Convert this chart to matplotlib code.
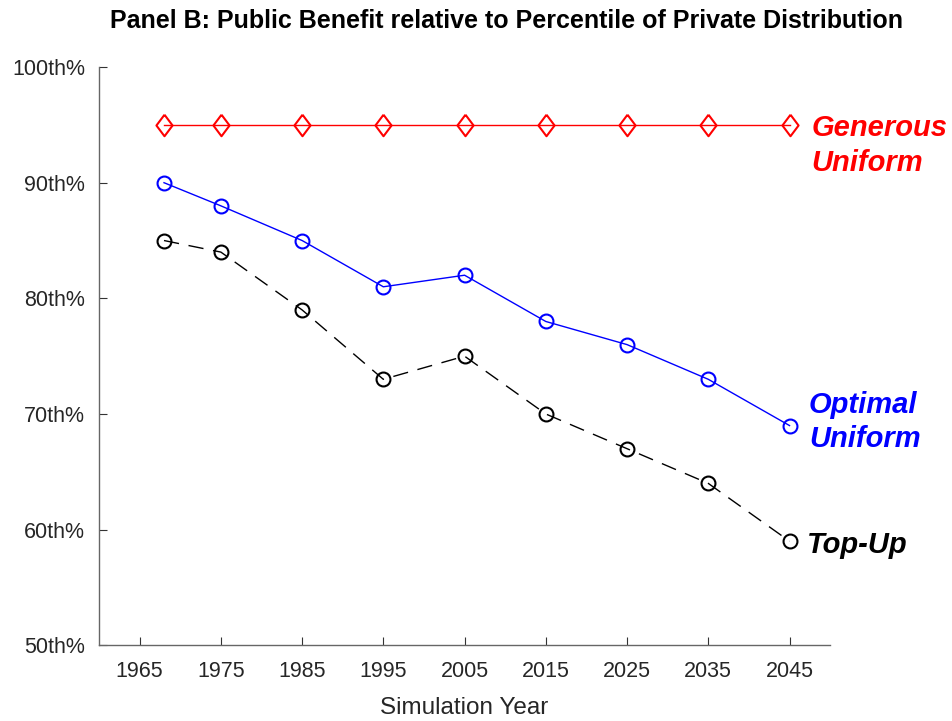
from matplotlib import pyplot as plt

# simulation years and percentile values
years = [1968, 1975, 1985, 1995, 2005, 2015, 2025, 2035, 2045]
generous_uniform = [95, 95, 95, 95, 95, 95, 95, 95, 95]
optimal_uniform = [90, 88, 85, 81, 82, 78, 76, 73, 69]
top_up = [85, 84, 79, 73, 75, 70, 67, 64, 59]

x_ticks = [1965, 1975, 1985, 1995, 2005, 2015, 2025, 2035, 2045]
y_ticks = [50, 60, 70, 80, 90, 100]
y_labels = ["50th%", "60th%", "70th%", "80th%", "90th%", "100th%"]

plt.rcParams['font.family'] = ['Liberation Sans', 'DejaVu Sans']

# matlab-like diamond (a bit wider than the thin one)
diamond = [(0, 1), (0.75, 0), (0, -1), (-0.75, 0), (0, 1)]

fig = plt.figure(figsize=(9.52, 7.21), dpi=100)
ax = fig.add_axes([0.104, 0.105, 0.768, 0.802])

ax.plot(years, generous_uniform, color='red', lw=1, marker=diamond, ms=15.5,
        mfc='none', mec='red', mew=1.5)
ax.plot(years, optimal_uniform, color='blue', lw=1, marker='o', ms=10,
        mfc='none', mec='blue', mew=1.5)
ax.plot(years, top_up, color='black', lw=1, ls=(0, (11, 7)), marker='o', ms=10,
        mfc='none', mec='black', mew=1.5)

ax.set_xlim(1960, 2050)
ax.set_ylim(50, 100)
ax.set_xticks(x_ticks)
ax.set_yticks(y_ticks)
ax.set_yticklabels(y_labels)

for s in ['top', 'right']:
    ax.spines[s].set_visible(False)
for s in ['left', 'bottom']:
    ax.spines[s].set_color('#666666')
    ax.spines[s].set_linewidth(1.0)
ax.tick_params(axis='both', direction='in', length=5.5, width=0.8, color='#333333',
               labelsize=15.5, labelcolor='#262626')
ax.tick_params(axis='x', pad=11)
ax.tick_params(axis='y', pad=10)

ax.set_xlabel("Simulation Year", fontsize=17.5, color='#262626', labelpad=11)

# series labels on the right
lab_kw = dict(fontsize=21, fontweight='bold', fontstyle='italic', va='center',
              ha='left', clip_on=False, linespacing=1.3)
ax.text(2047.7, 93.2, "Generous\nUniform", color='red', **lab_kw)
ax.text(2047.4, 69.3, "Optimal\nUniform", color='blue', **lab_kw)
ax.text(2047.2, 58.7, "Top-Up", color='black', **lab_kw)

fig.text(506 / 952, 1 - 21 / 721, "Panel B: Public Benefit relative to Percentile of Private Distribution",
         ha='center', va='center', fontsize=18, fontweight='bold')

plt.savefig("out.png", dpi=100)
